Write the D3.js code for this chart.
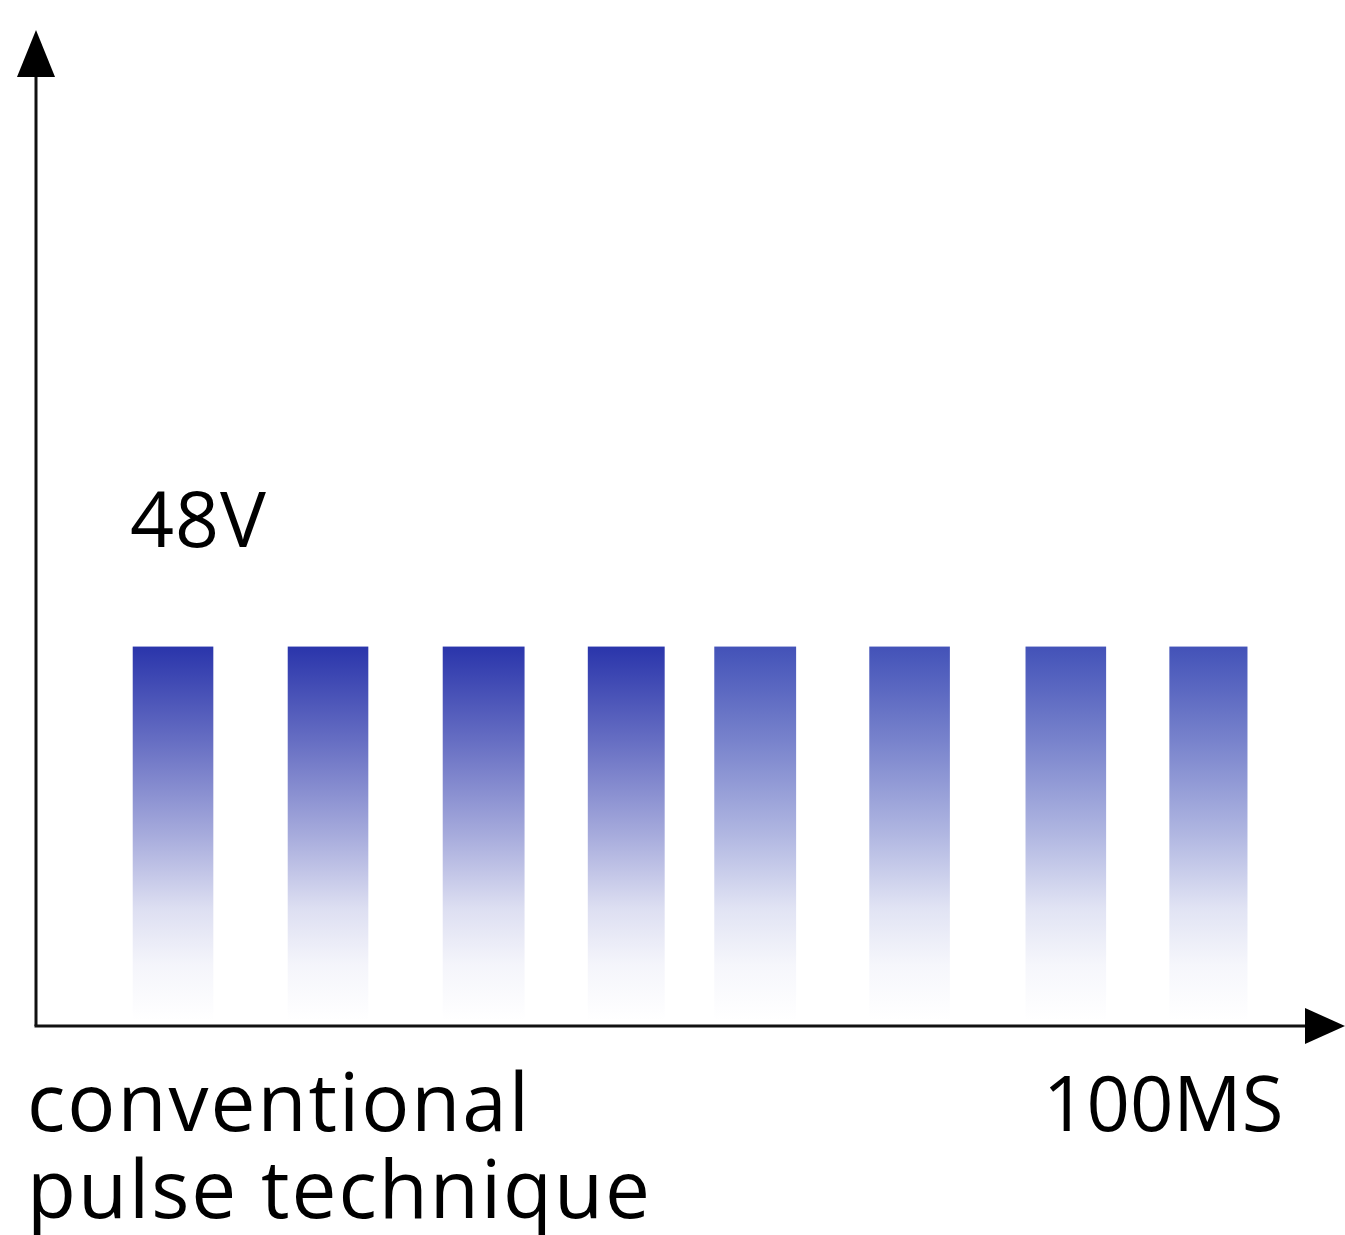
<!DOCTYPE html>
<html>
<head>
<meta charset="utf-8">
<script src="https://cdn.jsdelivr.net/npm/d3@7"></script>
<style>
  html, body { margin: 0; padding: 0; background: #fff; }
  svg { display: block; }
  text { font-family: "Open Sans", sans-serif; fill: #000; }
</style>
</head>
<body>
<svg id="chart"></svg>
<script>
// pulse train, time in ms
const pulseStart = [7.8, 20.3, 32.8, 44.5, 54.7, 67.2, 79.8, 91.4];
const pulseEnd   = [14.3, 26.8, 39.4, 50.7, 61.3, 73.7, 86.3, 97.7];
const pulseVolt  = [48, 48, 48, 48, 48, 48, 48, 48];
const pulseShade = ['dark', 'dark', 'dark', 'dark', 'light', 'light', 'light', 'light'];

const voltLabel = '48V';
const timeLabel = '100MS';
const titleLines = ['conventional', 'pulse technique'];

const width = 1345, height = 1235;

const svg = d3.select('#chart')
    .attr('width', width)
    .attr('height', height);

const xScale = d3.scaleLinear().domain([0, 100]).range([36, 1276]);
const yScale = d3.scaleLinear().domain([0, 126]).range([1026, 30]);

// gradients (one per shade)
const shadeColor = { dark: '#2a35ab', light: '#4352b8' };
const defs = svg.append('defs');
Object.entries(shadeColor).forEach(([key, col]) => {
    const g = defs.append('linearGradient')
        .attr('id', 'grad-' + key)
        .attr('x1', 0).attr('y1', 0).attr('x2', 0).attr('y2', 1);
    const stops = [[0, 1], [0.25, 0.72], [0.5, 0.42], [0.7, 0.16], [0.85, 0.05], [1, 0]];
    stops.forEach(([o, a]) => {
        g.append('stop').attr('offset', o).attr('stop-color', col).attr('stop-opacity', a);
    });
});

const pulses = pulseStart.map((s, i) => ({
    start: s, end: pulseEnd[i], volt: pulseVolt[i], shade: pulseShade[i]
}));

svg.selectAll('rect.pulse')
    .data(pulses)
    .enter()
    .append('rect')
    .attr('class', 'pulse')
    .attr('x', d => xScale(d.start))
    .attr('y', d => yScale(d.volt))
    .attr('width', d => xScale(d.end) - xScale(d.start))
    .attr('height', d => yScale(0) - 5 - yScale(d.volt))
    .attr('fill', d => `url(#grad-${d.shade})`);

// axes with arrow heads
const x0 = xScale(0), y0 = yScale(0);
svg.append('line')
    .attr('x1', x0).attr('y1', y0)
    .attr('x2', x0).attr('y2', 70)
    .attr('stroke', '#111').attr('stroke-width', 3);
svg.append('line')
    .attr('x1', x0 - 1.5).attr('y1', y0)
    .attr('x2', 1310).attr('y2', y0)
    .attr('stroke', '#111').attr('stroke-width', 3);
svg.append('path')
    .attr('d', `M${x0},30 L${x0 + 19},77 L${x0 - 19},77 Z`)
    .attr('fill', '#000');
svg.append('path')
    .attr('d', `M1345,${y0} L1305,${y0 - 18} L1305,${y0 + 18} Z`)
    .attr('fill', '#000');

// labels
svg.append('text')
    .attr('x', 130).attr('y', 547)
    .style('font-size', '77px')
    .style('letter-spacing', '1px')
    .text(voltLabel);

svg.append('text')
    .attr('x', 1043).attr('y', 1131)
    .style('font-size', '76px')
    .text(timeLabel);

svg.selectAll('text.title')
    .data(titleLines)
    .enter()
    .append('text')
    .attr('class', 'title')
    .attr('x', 27)
    .attr('y', (d, i) => 1131 + i * 87)
    .style('font-size', '80px')
    .style('letter-spacing', '2px')
    .text(d => d);
</script>
</body>
</html>
